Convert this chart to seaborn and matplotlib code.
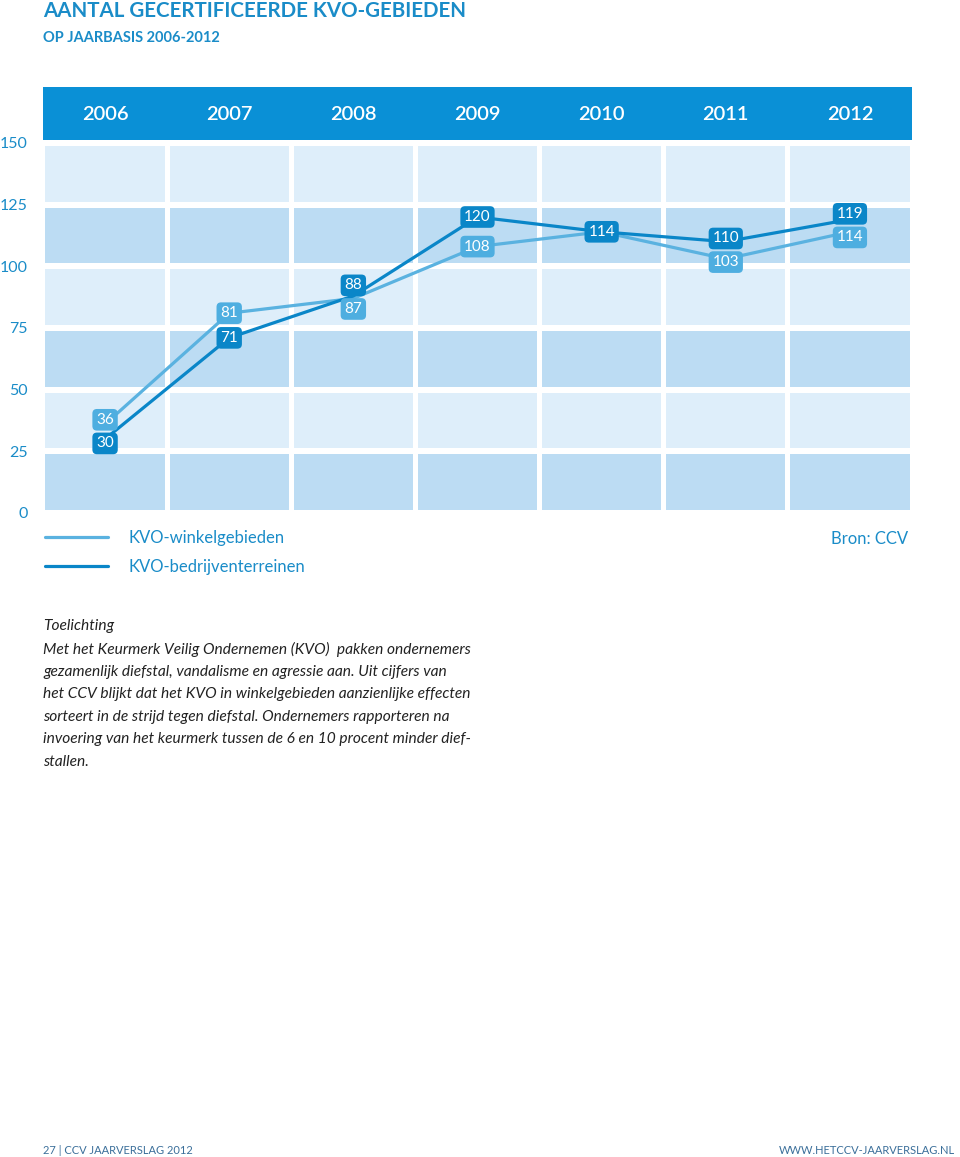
import pandas as pd
import seaborn as sb
import numpy as np
import matplotlib.pyplot as plt
from matplotlib.lines import Line2D

# data
years = [2006, 2007, 2008, 2009, 2010, 2011, 2012]
series = ['KVO-winkelgebieden', 'KVO-bedrijventerreinen']
winkel = [36, 81, 87, 108, 114, 103, 114]
bedrijf = [30, 71, 88, 120, 114, 110, 119]
yticks = [0, 25, 50, 75, 100, 125, 150]

title = 'AANTAL GECERTIFICEERDE KVO-GEBIEDEN'
subtitle = 'OP JAARBASIS 2006-2012'
source = 'Bron: CCV'
note_head = 'Toelichting'
note_lines = [
    'Met het Keurmerk Veilig Ondernemen (KVO)  pakken ondernemers',
    'gezamenlijk diefstal, vandalisme en agressie aan. Uit cijfers van',
    'het CCV blijkt dat het KVO in winkelgebieden aanzienlijke effecten',
    'sorteert in de strijd tegen diefstal. Ondernemers rapporteren na',
    'invoering van het keurmerk tussen de 6 en 10 procent minder dief-',
    'stallen.',
]
footer_left = '27 | CCV JAARVERSLAG 2012'
footer_right = 'WWW.HETCCV-JAARVERSLAG.NL'

# colours
header_col = '#0a90d6'
cell_light = '#deeefa'
cell_mid = '#bcdcf3'
line_light = '#5ab2e0'
line_dark = '#0a86c8'
box_light = '#4eaee0'
box_dark = '#0a86c8'
text_blue = '#1a8cc8'

sb.set_style('white')
plt.rcParams['font.family'] = ['Lato', 'DejaVu Sans']

df = pd.DataFrame({
    'year': years * 2,
    'value': winkel + bedrijf,
    'series': [series[0]] * len(years) + [series[1]] * len(years),
})

W, H = 960, 1157
fig = plt.figure(figsize=(W / 100, H / 100), dpi=100)
ax = fig.add_axes([43 / W, 1 - 513 / H, 869 / W, 426 / H])

ymax = 172.7
ax.set_xlim(years[0] - 0.5, years[-1] + 0.5)
ax.set_ylim(0, ymax)

# background cells
gap_y = 2.4
gap_x = 0.04
for i, lo in enumerate(yticks[:-1]):
    col = cell_mid if i % 2 == 0 else cell_light
    ax.bar(years, 25 - gap_y, bottom=lo + gap_y / 2, width=1 - gap_x,
           color=col, linewidth=0, zorder=0.5)
ax.axhspan(150 + gap_y / 2, ymax, color=header_col, lw=0, zorder=0.6)
for yr in years:
    ax.text(yr, 161.5, str(yr), ha='center', va='center', color='white',
            fontsize=14.5, fontweight='semibold', zorder=3)

sb.lineplot(data=df, x='year', y='value', hue='series',
            palette=[line_light, line_dark], lw=2.3, legend=False, ax=ax, zorder=2)

# value labels
pt_per_unit = 426 / ymax * 0.72
min_sep = 17
for yr, a, b in zip(years, winkel, bedrijf):
    diff = abs(a - b) * pt_per_unit
    off = max(0, (min_sep - diff) / 2)
    if a == b:
        offs = (0, 0)
    elif a > b:
        offs = (off, -off)
    else:
        offs = (-off, off)
    items = [(b, offs[1], box_dark, 5)]
    if a != b:
        items.append((a, offs[0], box_light, 4))
    for v, o, fc, z in items:
        ax.annotate(str(v), (yr, v), xytext=(0, o), textcoords='offset points',
                    ha='center', va='center', color='white', fontsize=11, zorder=z,
                    bbox=dict(boxstyle='round,pad=0.25,rounding_size=0.3', fc=fc, ec='none'))

ax.set_yticks(yticks)
ax.set_yticklabels([str(t) for t in yticks], color=text_blue, fontsize=11.5)
ax.set_xticks([])
ax.tick_params(axis='y', length=0, pad=11)
ax.set_xlabel('')
ax.set_ylabel('')
for s in ax.spines.values():
    s.set_visible(False)

# title
fig.text(43 / W, 1 - 11 / H, title, color=text_blue, fontsize=14.8, fontweight='bold',
         va='center', ha='left')
fig.text(43 / W, 1 - 38 / H, subtitle, color=text_blue, fontsize=10.5, fontweight='bold',
         va='center', ha='left')

# legend
for yy, col, lab in [(537, line_light, series[0]), (566, line_dark, series[1])]:
    fig.add_artist(Line2D([45 / W, 108 / W], [1 - yy / H] * 2, color=col, lw=2.3))
    fig.text(128 / W, 1 - (yy + 1) / H, lab, color=text_blue, fontsize=12,
             va='center', ha='left')
fig.text(908 / W, 1 - 539 / H, source, color=text_blue, fontsize=12,
         va='center', ha='right')

# note
fig.text(43 / W, 1 - 626 / H, note_head, color='#222222', fontsize=11.2,
         style='italic', va='center', ha='left')
for i, line in enumerate(note_lines):
    fig.text(43 / W, 1 - (649 + i * 22.6) / H, line, color='#222222', fontsize=11.2,
             style='italic', va='center', ha='left')

# footer
fig.text(43 / W, 1 - 1150 / H, footer_left, color='#3b6f9a', fontsize=8,
         va='center', ha='left')
fig.text(955 / W, 1 - 1150 / H, footer_right, color='#3b6f9a', fontsize=8,
         va='center', ha='right')

fig.savefig('out.png', dpi=100, facecolor='white')
